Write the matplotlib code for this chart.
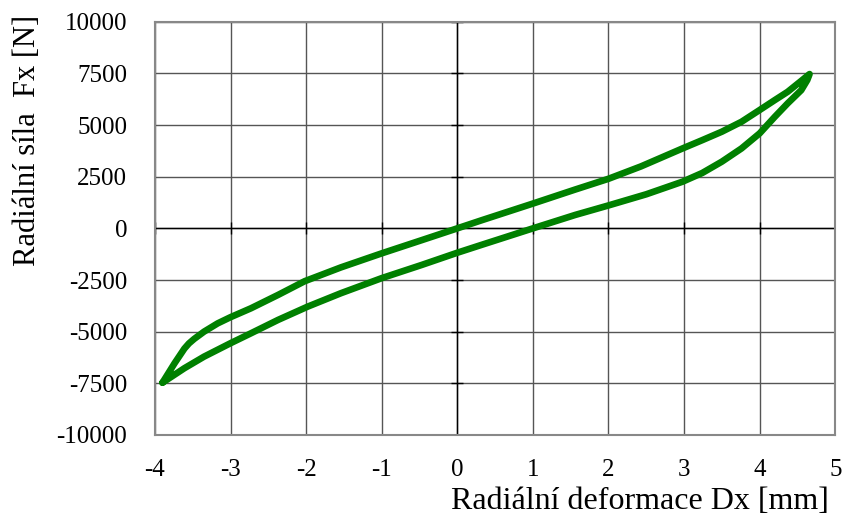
import matplotlib
matplotlib.use('Agg')
import matplotlib.pyplot as plt

# hysteresis loop, loading branch (left -> right)
x_up = [-3.90, -3.74, -3.61, -3.55, -3.48, -3.35, -3.17, -3.0, -2.73, -2.37, -2.02,
        -1.54, -1.0, -0.47, 0.0, 0.32, 1.0, 1.56, 2.0, 2.43, 2.98, 3.24, 3.5, 3.76,
        4.0, 4.2, 4.37, 4.55, 4.66]
y_up = [-7470, -6530, -5820, -5570, -5350, -5000, -4600, -4300, -3870, -3220, -2560,
        -1890, -1210, -570, 0, 390, 1200, 1880, 2400, 3000, 3870, 4270, 4680, 5160,
        5730, 6210, 6610, 7140, 7470]

# unloading branch (right -> left)
x_down = [4.66, 4.63, 4.55, 4.37, 4.2, 4.0, 3.76, 3.5, 3.24, 2.98, 2.5, 2.0, 1.56,
          1.0, 0.32, 0.0, -0.47, -1.0, -1.54, -1.98, -2.37, -2.73, -3.0, -3.35,
          -3.61, -3.90]
y_down = [7470, 7180, 6690, 6050, 5400, 4600, 3870, 3230, 2680, 2260, 1650, 1110, 650,
          0, -800, -1180, -1770, -2410, -3140, -3790, -4430, -5080, -5560, -6210,
          -6770, -7470]

x_ticks = [-4, -3, -2, -1, 0, 1, 2, 3, 4, 5]
y_ticks = [-10000, -7500, -5000, -2500, 0, 2500, 5000, 7500, 10000]

plt.rcParams['font.family'] = ['Liberation Serif', 'DejaVu Serif']
plt.rcParams['axes.unicode_minus'] = False

fig = plt.figure(figsize=(8.42, 5.19), dpi=100)
ax = fig.add_axes([0.184, 0.162, 0.808, 0.796])

ax.set_xlim(-4, 5)
ax.set_ylim(-10000, 10000)
ax.set_xticks(x_ticks)
ax.set_yticks(y_ticks)
ax.grid(True, color='#555555', linewidth=1.0)
ax.set_axisbelow(True)

for s in ax.spines.values():
    s.set_color('#888888')
    s.set_linewidth(1.5)

ax.axhline(0, color='black', linewidth=1.0, zorder=1)
ax.axvline(0, color='black', linewidth=1.0, zorder=1)

# small tick marks on the zero axes
ax.plot(x_ticks, [0] * len(x_ticks), linestyle='none', marker='|', markersize=8,
        color='black', markeredgewidth=1.0, zorder=1)
ax.plot([0] * len(y_ticks), y_ticks, linestyle='none', marker='_', markersize=8,
        color='black', markeredgewidth=1.0, zorder=1)

x_loop = x_up + x_down[1:]
y_loop = y_up + y_down[1:]
ax.plot(x_loop, y_loop, color='#008000', linewidth=4.8, solid_joinstyle='round',
        solid_capstyle='round', zorder=3)

ax.tick_params(axis='x', length=0, pad=17, labelsize=18)
ax.tick_params(axis='y', length=0, pad=20, labelsize=18)

ax.set_xlabel('Radiální deformace Dx [mm]', fontsize=23, ha='right', va='top')
ax.xaxis.set_label_coords(0.99, -0.127)
ax.set_ylabel('Radiální síla  Fx [N]', fontsize=22, ha='right', va='bottom')
ax.yaxis.set_label_coords(-0.166, 1.017)

fig.savefig('out.png', dpi=100)
